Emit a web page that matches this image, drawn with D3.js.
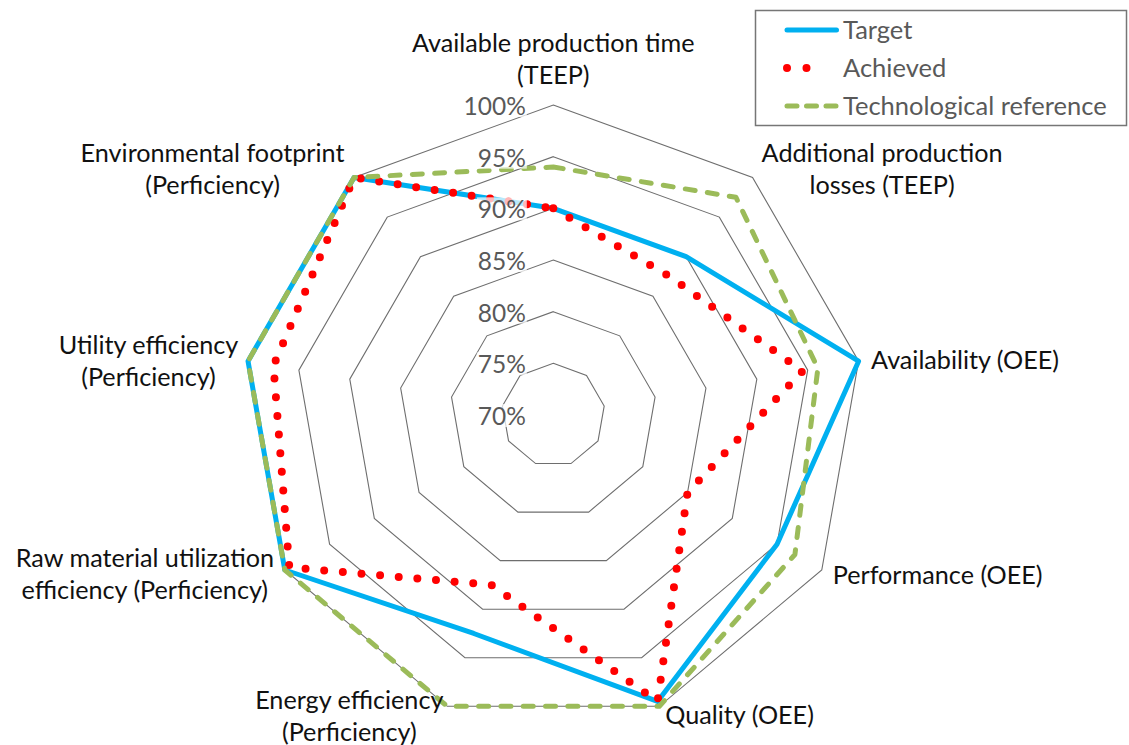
<!DOCTYPE html>
<html>
<head>
<meta charset="utf-8">
<script src="https://cdn.jsdelivr.net/npm/d3@7"></script>
<style>
  body { margin: 0; background: #fff; }
  svg { display: block; }
  text { font-family: Lato, "Open Sans", sans-serif; }
</style>
</head>
<body>
<svg id="chart" width="1129" height="745"></svg>
<script>
// Axes of the radar, clockwise from the top ("\n" marks a line break)
const categories = [
  "Available production time\n(TEEP)",
  "Additional production\nlosses (TEEP)",
  "Availability (OEE)",
  "Performance (OEE)",
  "Quality (OEE)",
  "Energy efficiency\n(Perficiency)",
  "Raw material utilization\nefficiency (Perficiency)",
  "Utility efficiency\n(Perficiency)",
  "Environmental footprint\n(Perficiency)"
];

// Series values, in percent
const target         = [90, 90,   100,  95, 99.5, 92.5, 100,  100,  100];
const achieved       = [90, 87.5, 94.5, 85, 99.5, 87.5, 99.5, 97.5, 100];
const techReference  = [94, 97.5, 96,   97, 100,  100,  100,  100,  100];

const seriesNames = ["Target", "Achieved", "Technological reference"];
const tickValues  = [70, 75, 80, 85, 90, 95, 100];
const tickLabels  = ["70%", "75%", "80%", "85%", "90%", "95%", "100%"];

// ---- layout ----
const svg = d3.select("#chart");
const cx = 553.3, cy = 415, R = 310;
const n = categories.length;

const r = d3.scaleLinear().domain([70, 100]).range([0, R]);
const angle = d3.scaleLinear().domain([0, n]).range([0, 2 * Math.PI]);

const g = svg.append("g").attr("transform", `translate(${cx},${cy})`);

const radial = d3.lineRadial()
  .angle((d, i) => angle(i))
  .radius(d => r(d))
  .curve(d3.curveLinearClosed);

// grid rings (70% collapses to the centre)
g.append("g").selectAll("path")
  .data(tickValues.filter(t => t > 70))
  .join("path")
  .attr("d", t => radial(d3.range(n).map(() => t)))
  .attr("fill", "none")
  .attr("stroke", "#6e6e6e")
  .attr("stroke-width", 1.1);

// series
const styles = [
  { values: target,        color: "#00B0F0", width: 5,   dash: null,      cap: "butt"  },
  { values: achieved,      color: "#FF0000", width: 8,   dash: "0 18.7",  cap: "round" },
  { values: techReference, color: "#9BBB59", width: 5,   dash: "10 12.3", cap: "round" }
];

g.append("g").selectAll("path")
  .data(styles)
  .join("path")
  .attr("d", s => radial(s.values))
  .attr("fill", "none")
  .attr("stroke", s => s.color)
  .attr("stroke-width", s => s.width)
  .attr("stroke-dasharray", s => s.dash)
  .attr("stroke-linecap", s => s.cap)
  .attr("stroke-linejoin", "round");

// tick labels on the top axis, with a translucent backing
const tickG = g.append("g");
tickValues.forEach((t, i) => {
  const y = -r(t) + 10;
  const txt = tickG.append("text")
    .attr("x", -27.5)
    .attr("y", y)
    .attr("text-anchor", "end")
    .attr("font-size", 24.5)
    .attr("fill", "#595959")
    .text(tickLabels[i]);
  const bb = txt.node().getBBox();
  tickG.insert("rect", "text")
    .attr("x", bb.x - 1).attr("y", bb.y + 3)
    .attr("width", bb.width + 2).attr("height", bb.height - 6)
    .attr("fill", "#fff").attr("opacity", 0.72);
});

// category labels, placed relative to the outer vertex of each axis
const labelLayout = [
  { dx: 0,      dy: -53,   anchor: "middle" },
  { dx: 129.5,  dy: -16,   anchor: "middle" },
  { dx: 12.5,   dy: 8,     anchor: "start"  },
  { dx: 11,     dy: 14,    anchor: "start"  },
  { dx: 6,      dy: 18,    anchor: "start"  },
  { dx: -98,    dy: 3,     anchor: "middle" },
  { dx: -140,   dy: -3,    anchor: "middle" },
  { dx: -99.5,  dy: -7,    anchor: "middle" },
  { dx: -141.5, dy: -16,   anchor: "middle" }
];

const labelG = g.append("g");
categories.forEach((c, i) => {
  const a = angle(i);
  const vx = Math.sin(a) * r(100), vy = -Math.cos(a) * r(100);
  const L = labelLayout[i];
  const t = labelG.append("text")
    .attr("x", vx + L.dx)
    .attr("y", vy + L.dy)
    .attr("text-anchor", L.anchor)
    .attr("font-size", 25.2)
    .attr("fill", "#111");
  c.split("\n").forEach((line, k) => {
    t.append("tspan")
      .attr("x", vx + L.dx)
      .attr("dy", k === 0 ? 0 : 32)
      .text(line);
  });
});

// legend
const legend = svg.append("g");
legend.append("rect")
  .attr("x", 755.5).attr("y", 10.5)
  .attr("width", 371).attr("height", 115)
  .attr("fill", "#fff")
  .attr("stroke", "#767676")
  .attr("stroke-width", 1.5);

const legendY = d3.scalePoint().domain(seriesNames).range([30, 106]);
seriesNames.forEach((name, i) => {
  const s = styles[i];
  const y = legendY(name);
  legend.append("line")
    .attr("x1", 787).attr("x2", i === 1 ? 826 : 836.5)
    .attr("y1", y).attr("y2", y)
    .attr("stroke", s.color)
    .attr("stroke-width", s.width)
    .attr("stroke-dasharray", i === 1 ? "0 19.5" : (i === 2 ? "10 9.5" : null))
    .attr("stroke-linecap", "round");
  legend.append("text")
    .attr("x", 843)
    .attr("y", y + 8.5)
    .attr("font-size", 25.5)
    .attr("fill", "#595959")
    .text(name);
});
</script>
</body>
</html>
